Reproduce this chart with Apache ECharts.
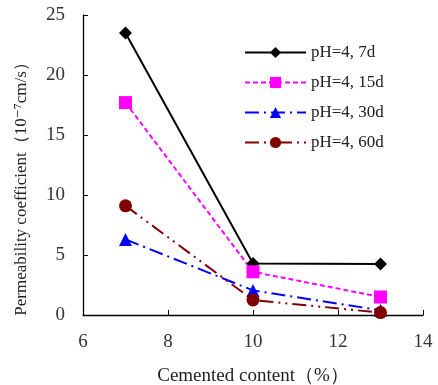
<!DOCTYPE html>
<html>
<head>
<meta charset="utf-8">
<script src="https://cdn.jsdelivr.net/npm/echarts@6/dist/echarts.min.js"></script>
<style>html,body{margin:0;padding:0;background:#fff}#c{width:438px;height:385px}</style>
</head>
<body>
<div id="c"></div>
<script>
// Cement content (%) on the x axis
const cementContent = [7, 10, 13];
// Permeability coefficient (10^-7 cm/s) after each soaking period at pH=4
const k7d = [23.5, 4.3, 4.25];
const k15d = [17.7, 3.6, 1.5];
const k30d = [6.3, 2.05, 0.4];
const k60d = [9.1, 1.25, 0.2];
const seriesNames = ['pH=4, 7d', 'pH=4, 15d', 'pH=4, 30d', 'pH=4, 60d'];
const xTitle = 'Cemented content（%）';
const yTitle = 'Permeability coefficient（10⁻⁷cm/s）';

const serif = '"Liberation Serif", "DejaVu Serif", serif';
const pairs = v => cementContent.map((x, i) => [x, v[i]]);

const chart = echarts.init(document.getElementById('c'));
chart.setOption({
  animation: false,
  backgroundColor: '#fff',
  grid: { left: 83, right: 15, top: 15, bottom: 70, containLabel: false, outerBoundsMode: 'none' },
  legend: {
    orient: 'vertical',
    left: 239, top: 39,
    itemWidth: 61, itemHeight: 14, itemGap: 13,
    textStyle: { fontFamily: serif, fontSize: 17, color: '#222' },
    data: seriesNames
  },
  graphic: [{
    type: 'text',
    x: 22, y: 185,
    rotation: Math.PI / 2,
    style: {
      text: yTitle,
      fontFamily: serif, fontSize: 17, fill: '#222',
      align: 'center', verticalAlign: 'middle'
    }
  }],
  xAxis: {
    type: 'value', min: 6, max: 14, interval: 2,
    name: xTitle, nameLocation: 'middle', nameGap: 52,
    nameTextStyle: { fontFamily: serif, fontSize: 19, color: '#222' },
    axisLine: { onZero: false, lineStyle: { color: '#000', width: 1.3 } },
    axisTick: { inside: true, length: 5, lineStyle: { color: '#000' } },
    axisLabel: { fontFamily: serif, fontSize: 19, color: '#333', margin: 18 },
    splitLine: { show: false }
  },
  yAxis: {
    type: 'value', min: 0, max: 25, interval: 5,
    axisLine: { show: true, lineStyle: { color: '#000', width: 1.3 } },
    axisTick: { show: true, inside: true, length: 5, lineStyle: { color: '#000' } },
    axisLabel: { fontFamily: serif, fontSize: 19, color: '#333', margin: 18 },
    splitLine: { show: false }
  },
  series: [
    {
      name: seriesNames[0], type: 'line', data: pairs(k7d),
      symbol: 'diamond', symbolSize: 13,
      lineStyle: { color: '#000', width: 2 },
      itemStyle: { color: '#000' }
    },
    {
      name: seriesNames[1], type: 'line', data: pairs(k15d),
      symbol: 'rect', symbolSize: 13,
      lineStyle: { color: '#ff00ff', width: 2, type: [5, 3] },
      itemStyle: { color: '#ff00ff' }
    },
    {
      name: seriesNames[2], type: 'line', data: pairs(k30d),
      symbol: 'triangle', symbolSize: 13,
      lineStyle: { color: '#0000ff', width: 2, type: [14, 5, 2, 5] },
      itemStyle: { color: '#0000ff' }
    },
    {
      name: seriesNames[3], type: 'line', data: pairs(k60d),
      symbol: 'circle', symbolSize: 13,
      lineStyle: { color: '#800000', width: 2, type: [14, 5, 2, 5, 2, 5] },
      itemStyle: { color: '#800000' }
    }
  ]
});
</script>
</body>
</html>
